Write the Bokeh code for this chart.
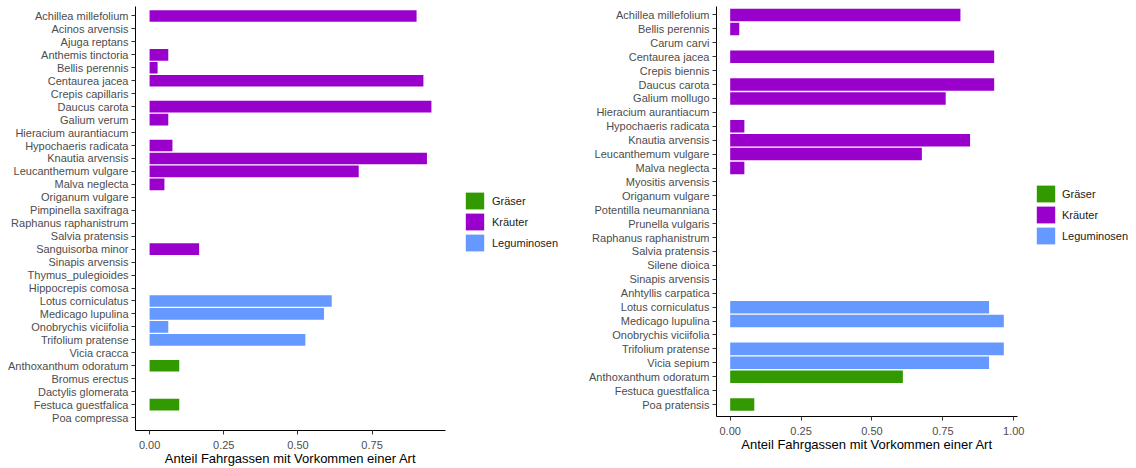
from bokeh.plotting import figure
from bokeh.models import (Range1d, FixedTicker, NumeralTickFormatter,
                          ColumnDataSource, Legend, LegendItem)
from bokeh.layouts import row
from bokeh.embed import file_html
from bokeh.resources import INLINE

# ---------------- data (left panel) ----------------
left_species = [
    "Achillea millefolium", "Acinos arvensis", "Ajuga reptans", "Anthemis tinctoria",
    "Bellis perennis", "Centaurea jacea", "Crepis capillaris", "Daucus carota",
    "Galium verum", "Hieracium aurantiacum", "Hypochaeris radicata", "Knautia arvensis",
    "Leucanthemum vulgare", "Malva neglecta", "Origanum vulgare", "Pimpinella saxifraga",
    "Raphanus raphanistrum", "Salvia pratensis", "Sanguisorba minor", "Sinapis arvensis",
    "Thymus_pulegioides", "Hippocrepis comosa", "Lotus corniculatus", "Medicago lupulina",
    "Onobrychis viciifolia", "Trifolium pratense", "Vicia cracca", "Anthoxanthum odoratum",
    "Bromus erectus", "Dactylis glomerata", "Festuca guestfalica", "Poa compressa",
]
left_groups = ["Kräuter"] * 21 + ["Leguminosen"] * 6 + ["Gräser"] * 5
left_values = [
    0.900, 0.0, 0.0, 0.063,
    0.027, 0.923, 0.0, 0.950,
    0.063, 0.0, 0.077, 0.935,
    0.705, 0.050, 0.0, 0.0,
    0.0, 0.0, 0.167, 0.0,
    0.0, 0.0, 0.614, 0.588,
    0.063, 0.525, 0.0, 0.100,
    0.0, 0.0, 0.100, 0.0,
]

# ---------------- data (right panel) ----------------
right_species = [
    "Achillea millefolium", "Bellis perennis", "Carum carvi", "Centaurea jacea",
    "Crepis biennis", "Daucus carota", "Galium mollugo", "Hieracium aurantiacum",
    "Hypochaeris radicata", "Knautia arvensis", "Leucanthemum vulgare", "Malva neglecta",
    "Myositis arvensis", "Origanum vulgare", "Potentilla neumanniana", "Prunella vulgaris",
    "Raphanus raphanistrum", "Salvia pratensis", "Silene dioica", "Sinapis arvensis",
    "Anhtyllis carpatica", "Lotus corniculatus", "Medicago lupulina", "Onobrychis viciifolia",
    "Trifolium pratense", "Vicia sepium", "Anthoxanthum odoratum", "Festuca guestfalica",
    "Poa pratensis",
]
right_groups = ["Kräuter"] * 20 + ["Leguminosen"] * 6 + ["Gräser"] * 3
right_values = [
    0.812, 0.032, 0.0, 0.931,
    0.0, 0.931, 0.760, 0.0,
    0.050, 0.846, 0.676, 0.050,
    0.0, 0.0, 0.0, 0.0,
    0.0, 0.0, 0.0, 0.0,
    0.0, 0.913, 0.965, 0.0,
    0.965, 0.913, 0.609, 0.0,
    0.085,
]

group_order = ["Gräser", "Kräuter", "Leguminosen"]
group_colors = {"Gräser": "#339900", "Kräuter": "#9900CC", "Leguminosen": "#6699FF"}
x_ticks = [0.0, 0.25, 0.5, 0.75, 1.0]
x_title = "Anteil Fahrgassen mit Vorkommen einer Art"

FONT = "Liberation Sans"
FRAME_TOP = 6
FRAME_BOTTOM_BORDER = 38


def make_panel(species, groups, values, width, height, b_left, b_right, pad_top, pad_bottom):
    n = len(species)
    pos = {s: n - 1 - i for i, s in enumerate(species)}   # first species on top
    xmax = max(values)
    p = figure(width=width, height=height,
               x_range=Range1d(-0.05 * xmax, 1.05 * xmax),
               y_range=Range1d(-pad_bottom, n - 1 + pad_top),
               output_backend="svg", toolbar_location=None,
               min_border_left=b_left, min_border_right=b_right,
               min_border_top=FRAME_TOP, min_border_bottom=FRAME_BOTTOM_BORDER)
    p.outline_line_color = None
    p.xgrid.visible = False
    p.ygrid.visible = False

    for g in group_order:
        ys = [pos[s] for s, gg in zip(species, groups) if gg == g]
        vs = [v for v, gg in zip(values, groups) if gg == g]
        src = ColumnDataSource(dict(y=ys, right=vs))
        p.hbar(y="y", left=0, right="right", height=0.9, source=src,
               fill_color=group_colors[g], line_color=None)

    for ax in (p.xaxis[0], p.yaxis[0]):
        ax.axis_line_color = "black"
        ax.major_tick_line_color = "#333333"
        ax.major_tick_in = 0
        ax.major_tick_out = 4
        ax.minor_tick_line_color = None
        ax.major_label_text_font = FONT
        ax.major_label_text_font_size = "11px"
        ax.major_label_text_color = "#4D4D4D"
    p.yaxis.ticker = FixedTicker(ticks=sorted(pos.values()))
    p.yaxis.major_label_overrides = {v: k for k, v in pos.items()}
    p.yaxis.major_label_standoff = 3
    p.xaxis.ticker = FixedTicker(ticks=x_ticks)
    p.xaxis.formatter = NumeralTickFormatter(format="0.00")
    p.xaxis.major_label_standoff = 6
    p.xaxis.axis_label = x_title
    p.xaxis.axis_label_text_font = FONT
    p.xaxis.axis_label_text_font_size = "13px"
    p.xaxis.axis_label_text_font_style = "normal"
    p.xaxis.axis_label_text_color = "black"
    p.xaxis.axis_label_standoff = -1
    return p


def make_legend(width, height, lx, ly, standoff):
    q = figure(width=width, height=height, x_range=Range1d(0, 1), y_range=Range1d(0, 1),
               output_backend="svg", toolbar_location=None,
               x_axis_type=None, y_axis_type=None,
               min_border_left=0, min_border_right=0,
               min_border_top=FRAME_TOP, min_border_bottom=FRAME_BOTTOM_BORDER)
    q.outline_line_color = None
    q.xgrid.visible = False
    q.ygrid.visible = False
    items = []
    for g in group_order:
        # key glyph only: a zero-length bar, nothing visible is drawn
        r = q.hbar(y=[0.5], left=[0], right=[0], height=0.9,
                   fill_color=group_colors[g], line_color=None)
        items.append(LegendItem(label=g, renderers=[r]))
    legend = Legend(items=items, location=(lx, ly),
                    glyph_width=23, glyph_height=21, spacing=0,
                    label_standoff=standoff, padding=0, margin=0,
                    border_line_color=None, background_fill_alpha=0,
                    label_text_font=FONT, label_text_font_size="11px",
                    label_text_color="#1A1A1A")
    q.add_layout(legend, "center")
    return q


p1 = make_panel(left_species, left_groups, left_values, 455, 468, 135, 10, 0.73, 1.0)
leg1 = make_legend(113, 468, 8, 177, 6)
p2 = make_panel(right_species, right_groups, right_values, 461, 454, 148, 12, 0.61, 0.86)
leg2 = make_legend(107, 454, 5, 170, 5)

layout = row(p1, leg1, p2, leg2)
open("out.html", "w").write(file_html(layout, INLINE))
